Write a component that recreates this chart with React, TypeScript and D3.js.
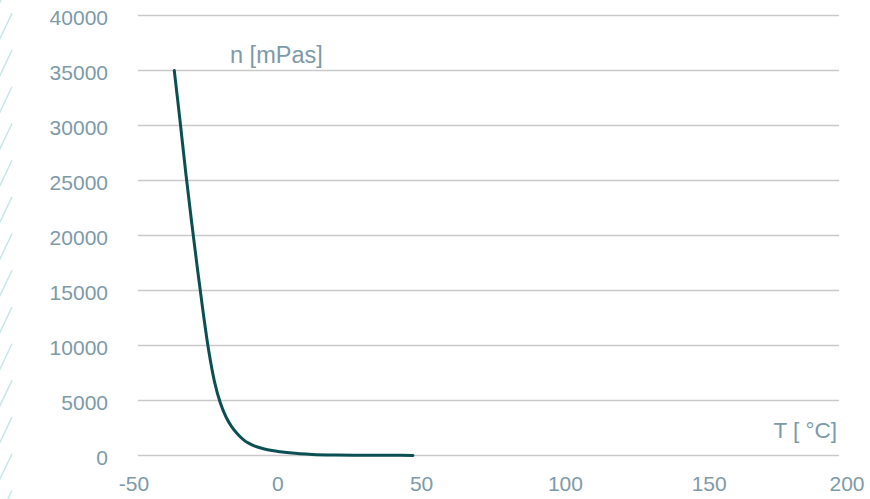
import React from 'react';
import * as d3 from 'd3';

// viscosity curve
const temps = [-36, -34, -32, -30, -28, -26, -24, -22, -20, -18, -16, -14, -12, -10, -8, -5, -2, 0.8, 4, 7.7, 12, 20, 30, 40, 47];
const visc = [35000, 30450, 25700, 21300, 17100, 13100, 9500, 6700, 4800, 3500, 2600, 1950, 1450, 1100, 850, 620, 450, 340, 240, 150, 90, 45, 25, 15, 10];

const xTicks = [-50, 0, 50, 100, 150, 200];
const yTicks = [0, 5000, 10000, 15000, 20000, 25000, 30000, 35000, 40000];

const W = 870;
const H = 499;

export default function App() {
  const x = d3.scaleLinear().domain([-50, 200]).range([134, 853]);
  const y = d3.scaleLinear().domain([0, 40000]).range([455.5, 15.5]);

  const line = d3.line<number>()
    .x((d, i) => x(temps[i]))
    .y(d => y(d))
    .curve(d3.curveCatmullRom.alpha(0.5));

  const labelColor = '#7d9aa9';
  const font = '"Liberation Sans", Arial, sans-serif';

  // left-edge hatch decoration
  const hatch = d3.range(-30, H + 40, 36.7);

  return (
    <svg width={W} height={H} style={{ position: 'absolute', left: 0, top: 0, background: '#fff' }}>
      <g stroke="#c6e7e9" strokeWidth={1.5}>
        {hatch.map((hy, i) => (
          <line key={i} x1={12} y1={hy + 6.7} x2={-1} y2={hy + 34} />
        ))}
      </g>

      <g>
        {yTicks.map(t => (
          <line key={t} x1={138} x2={839} y1={y(t)} y2={y(t)} stroke="#c9c9c9" strokeWidth={1.5} />
        ))}
      </g>

      <g fontFamily={font} fontSize={21} fill={labelColor}>
        {yTicks.map(t => (
          <text key={t} x={108} y={y(t) + 1.5} textAnchor="end" dominantBaseline="central">{t}</text>
        ))}
        {xTicks.map(t => (
          <text key={t} x={Math.min(x(t), 847)} y={491} textAnchor="middle">{t}</text>
        ))}
        <text x={230} y={63} fontSize={23.5}>n [mPas]</text>
        <text x={837} y={438} fontSize={22.5} textAnchor="end">T [ °C]</text>
      </g>

      <path d={line(visc) || ''} fill="none" stroke="#0b4f53" strokeWidth={3} strokeLinecap="round" />
    </svg>
  );
}
